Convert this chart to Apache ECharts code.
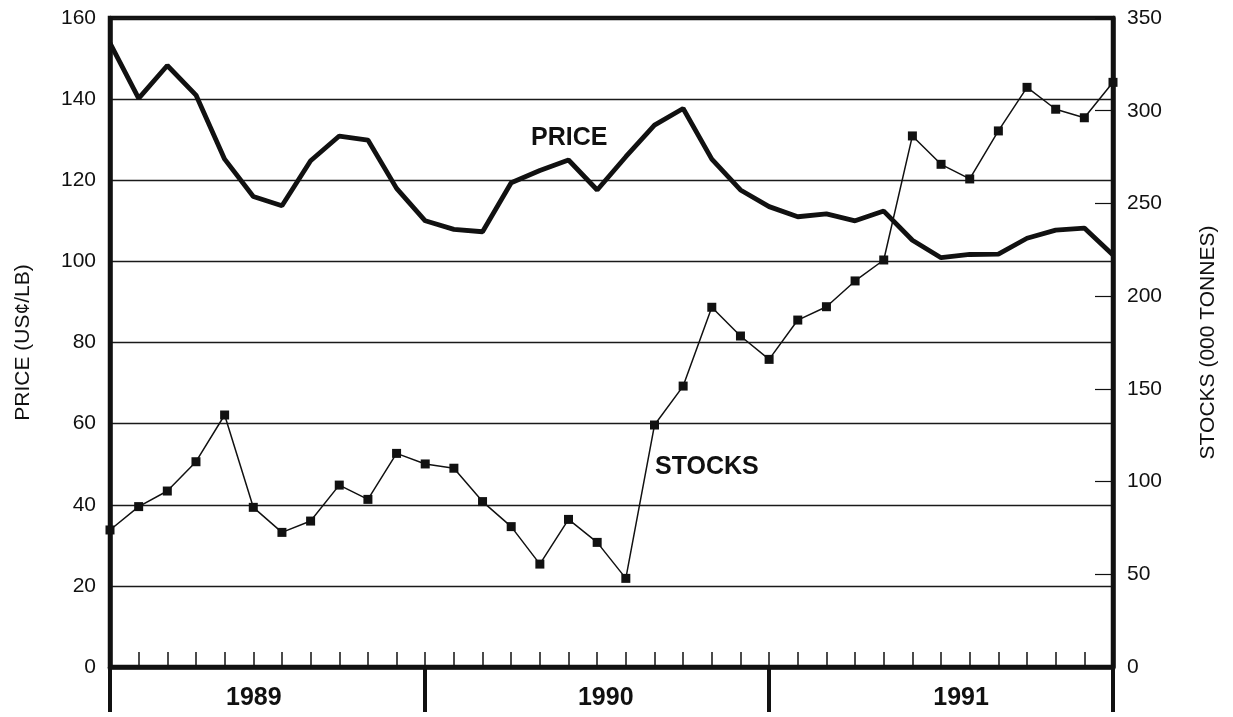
<!DOCTYPE html>
<html lang="en">
<head>
  <meta charset="UTF-8">
  <title>Price and stocks 1989-1991</title>
  <script src="https://cdn.jsdelivr.net/npm/echarts@6/dist/echarts.min.js"></script>
  <style>
    html, body { margin: 0; padding: 0; background: #fff; }
    #chart { width: 1233px; height: 717px; }
  </style>
</head>
<body>
  <div id="chart"></div>
<script>
  // monthly categories, Jan 1989 - Dec 1991
  var months = [
    'Jan 89', 'Feb 89', 'Mar 89', 'Apr 89', 'May 89', 'Jun 89', 'Jul 89', 'Aug 89', 'Sep 89', 'Oct 89', 'Nov 89', 'Dec 89',
    'Jan 90', 'Feb 90', 'Mar 90', 'Apr 90', 'May 90', 'Jun 90', 'Jul 90', 'Aug 90', 'Sep 90', 'Oct 90', 'Nov 90', 'Dec 90',
    'Jan 91', 'Feb 91', 'Mar 91', 'Apr 91', 'May 91', 'Jun 91', 'Jul 91', 'Aug 91', 'Sep 91', 'Oct 91', 'Nov 91', 'Dec 91'
  ]
  var years = ['1989', '1990', '1991']

  // price, US cents / lb (left axis)
  var price = [
    153.8, 140.2, 148.3, 141.0, 125.2, 116.0, 113.7, 124.8, 130.9, 129.9, 118.0, 110.0,
    107.9, 107.3, 119.4, 122.4, 125.0, 117.6, 125.8, 133.6, 137.7, 125.2, 117.6, 113.5,
    111.0, 111.7, 110.0, 112.4, 105.2, 100.9, 101.7, 101.8, 105.7, 107.7, 108.2, 101.6
  ]

  // stocks, 000 tonnes (right axis)
  var stocks = [
    73.9, 86.5, 94.9, 110.7, 135.9, 86.1, 72.6, 78.7, 98.1, 90.4, 115.2, 109.5,
    107.2, 89.2, 75.7, 55.5, 79.6, 67.2, 47.8, 130.5, 151.5, 194.0, 178.5, 165.9,
    187.1, 194.3, 208.2, 219.5, 286.4, 271.1, 263.2, 289.1, 312.6, 300.8, 296.2, 315.3
  ]

  var font = 'Liberation Sans, Arial, Helvetica, sans-serif'
  var ink = '#111'

  // where the year separators and year names sit on the month scale
  var yearBreaks = [0, 11, 23, 35]
  var yearLabelPos = [5.02, 17.3, 29.7]

  var chart = echarts.init(document.getElementById('chart'))

  chart.setOption({
    animation: false,
    backgroundColor: '#fff',
    grid: {
      left: 110,
      right: 120,
      top: 18,
      bottom: 50,
      show: true,
      borderColor: ink,
      borderWidth: 4.5
    },
    xAxis: [
      {
        type: 'category',
        data: months,
        boundaryGap: false,
        axisLine: { lineStyle: { color: ink, width: 4.5 } },
        axisTick: { inside: true, length: 15, interval: 0, lineStyle: { color: ink, width: 1.5 } },
        axisLabel: { show: false },
        splitLine: { show: false }
      },
      {
        // year band under the axis
        type: 'value',
        position: 'bottom',
        min: 0,
        max: 35,
        offset: 10,
        axisLine: { show: false },
        axisTick: { show: true, customValues: yearBreaks, length: 45, lineStyle: { color: ink, width: 4 } },
        axisLabel: {
          customValues: yearLabelPos,
          margin: 9,
          color: ink,
          fontFamily: font,
          fontSize: 25,
          fontWeight: 'bold',
          formatter: function (v) {
            var i = yearLabelPos.indexOf(v)
            return i >= 0 ? years[i] : ''
          }
        },
        splitLine: { show: false }
      }
    ],
    yAxis: [
      {
        type: 'value',
        min: 0,
        max: 160,
        interval: 20,
        name: 'PRICE (US¢/LB)',
        nameLocation: 'middle',
        nameGap: 76,
        nameTextStyle: { color: ink, fontFamily: font, fontSize: 21 },
        axisLine: { show: true, lineStyle: { color: ink, width: 4.5 } },
        axisTick: { show: false },
        axisLabel: { color: ink, fontFamily: font, fontSize: 21, margin: 14 },
        splitLine: { lineStyle: { color: '#1a1a1a', width: 1.4 } }
      },
      {
        type: 'value',
        position: 'right',
        min: 0,
        max: 350,
        interval: 50,
        name: 'STOCKS (000 TONNES)',
        nameLocation: 'middle',
        nameGap: 85,
        nameTextStyle: { color: ink, fontFamily: font, fontSize: 21 },
        axisLine: { show: true, lineStyle: { color: ink, width: 4.5 } },
        axisTick: { show: true, inside: true, length: 18, lineStyle: { color: ink, width: 1.2 } },
        axisLabel: { color: ink, fontFamily: font, fontSize: 21, margin: 14 },
        splitLine: { show: false }
      }
    ],
    graphic: [
      { type: 'text', left: 531, top: 126, style: { text: 'PRICE', fill: ink, font: 'bold 25px ' + font } },
      { type: 'text', left: 655, top: 455, style: { text: 'STOCKS', fill: ink, font: 'bold 25px ' + font } }
    ],
    series: [
      {
        name: 'PRICE',
        type: 'line',
        data: price,
        yAxisIndex: 0,
        showSymbol: false,
        lineStyle: { color: ink, width: 4.8 },
        z: 3
      },
      {
        name: 'STOCKS',
        type: 'line',
        data: stocks,
        yAxisIndex: 1,
        symbol: 'rect',
        symbolSize: 9,
        itemStyle: { color: ink },
        lineStyle: { color: ink, width: 1.5 },
        z: 4
      }
    ]
  })
</script>
</body>
</html>
